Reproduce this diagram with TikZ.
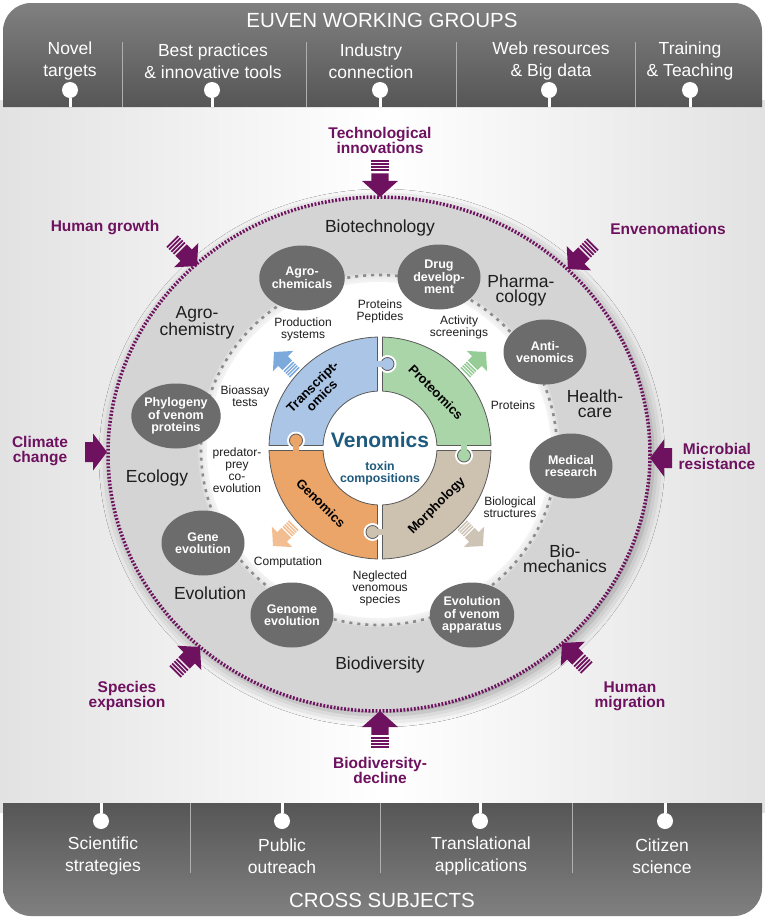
\documentclass[tikz,border=0pt]{standalone}
\usepackage{fontspec}
\setmainfont{Liberation Sans}
\usepackage{tikz}
\usetikzlibrary{shapes,shadows.blur}

\definecolor{venpurple}{RGB}{110,18,96}
\definecolor{venteal}{RGB}{30,90,125}
\definecolor{bggray}{RGB}{226,226,226}
\definecolor{barlight}{RGB}{128,128,128}
\definecolor{bardark}{RGB}{86,86,86}
\definecolor{sepgray}{RGB}{175,175,175}
\definecolor{discgray}{RGB}{212,212,212}
\definecolor{ovalgray}{RGB}{108,108,108}
\definecolor{dotgray}{RGB}{140,140,140}
\definecolor{textgray}{RGB}{30,30,30}
\definecolor{pieceline}{RGB}{90,90,90}
\definecolor{transblue}{RGB}{170,197,230}
\definecolor{protgreen}{RGB}{170,213,168}
\definecolor{morphbrown}{RGB}{205,194,176}
\definecolor{genorange}{RGB}{235,165,105}
\definecolor{arrblue}{RGB}{125,170,220}
\definecolor{arrgreen}{RGB}{150,205,150}
\definecolor{arrorange}{RGB}{242,190,145}
\definecolor{arrbrown}{RGB}{205,196,182}

\tikzstyle{node_oval} = [ellipse, fill=ovalgray, text=white, inner sep=0pt, minimum width=83pt, minimum height=65pt, align=center, font=\fontsize{12.5}{12.5}\selectfont\bfseries]
\tikzstyle{node_sector} = [align=center, text=textgray, font=\fontsize{17.5}{15}\selectfont]
\tikzstyle{node_note} = [align=center, text=textgray, font=\fontsize{12}{12}\selectfont]
\tikzstyle{node_force} = [align=center, text=venpurple, font=\fontsize{15.5}{15}\selectfont\bfseries]
\tikzstyle{node_piece} = [align=center, text=black, font=\fontsize{13}{13}\selectfont\bfseries]
\tikzstyle{node_bar} = [align=center, text=white, font=\fontsize{17.5}{22}\selectfont]
\tikzstyle{node_bartitle} = [text=white, font=\fontsize{20.5}{22}\selectfont]
\tikzstyle{pin_head} = [circle, fill=white, inner sep=0pt, minimum size=16pt]
\tikzstyle{pin_stem} = [white, line width=3pt]
\tikzstyle{sep_line} = [sepgray, line width=0.8pt]

% block arrow with striped tail: colour, tip, angle, scale
\newcommand{\pusharrow}[4]{%
  \begin{scope}[shift={(#2)}, rotate=#3, scale=#4]
    \fill[#1] (0,0) -- (-17,-19) -- (-17,-9) -- (-25,-9) -- (-25,9) -- (-17,9) -- (-17,19) -- cycle;
    \foreach \s in {0,...,3}
      \fill[#1] (-27-3.4*\s,-9) rectangle ++(-2,18);
  \end{scope}}
% short block arrow: colour, tip, angle
\newcommand{\pushhead}[3]{%
  \begin{scope}[shift={(#2)}, rotate=#3]
    \fill[#1] (0,0) -- (-14,-18.5) -- (-14,-10) -- (-22,-10) -- (-22,10) -- (-14,10) -- (-14,18.5) -- cycle;
  \end{scope}}

\begin{document}
\begin{tikzpicture}[x=1pt, y=-1pt]
\useasboundingbox (0,0) rectangle (765,919);
\def\cx{379}
\def\cy{454}
\def\ri{57}
\def\ro{111}

% background
\shade[left color=bggray, right color=bggray, middle color=white] (0,100) rectangle (765,812);

% working groups
\shade[top color=barlight, bottom color=bardark] (3,107) -- (3,31) arc[start angle=180, end angle=270, radius=28] -- (734,3) arc[start angle=270, end angle=360, radius=28] -- (762,107) -- cycle;
\node[node_bartitle] (wgTitle) at (382,20) {EUVEN WORKING GROUPS};
\foreach \x in {122,306,456,635}
  \draw[sep_line] (\x,42) -- (\x,107);
\foreach \x/\t [count=\i] in {70/{Novel\\targets}, 213/{Best practices\\\& innovative tools}, 371/{Industry\\connection}, 551/{Web resources\\\& Big data}, 690/{Training\\\& Teaching}}
  \node[node_bar] (wg\i) at (\x,61) {\t};
\foreach \x [count=\i] in {70,212,380,549,690} {
  \node[pin_head] (wgPin\i) at (\x,90) {};
  \coordinate (wgFoot\i) at (\x,107);
  \draw[pin_stem] (wgPin\i) -- (wgFoot\i);
}

% cross subjects
\shade[top color=bardark, bottom color=barlight] (3,803) -- (762,803) -- (762,888) arc[start angle=0, end angle=90, radius=28] -- (31,916) arc[start angle=90, end angle=180, radius=28] -- cycle;
\node[node_bartitle] (csTitle) at (382,900) {CROSS SUBJECTS};
\foreach \x in {190,380,572}
  \draw[sep_line] (\x,803) -- (\x,873);
\foreach \x/\t [count=\i] in {103/{Scientific\\strategies}, 282/{Public\\outreach}, 481/{Translational\\applications}, 662/{Citizen\\science}}
  \node[node_bar] (cs\i) at (\x,856) {\t};
\foreach \x [count=\i] in {101,282,480,665} {
  \node[pin_head] (csPin\i) at (\x,821) {};
  \coordinate (csFoot\i) at (\x,803);
  \draw[pin_stem] (csPin\i) -- (csFoot\i);
}

% disc
\fill[discgray, blur shadow={shadow xshift=3pt, shadow yshift=-4pt, shadow blur radius=12pt, shadow opacity=40}] (\cx,\cy) ellipse [x radius=271, y radius=257];
\fill[white] (379,450) ellipse [x radius=172, y radius=168];
\foreach \g in {1,...,6}
  \fill[white, opacity=0.22] (379,450) ellipse [x radius=172+1.5*\g, y radius=168+1.5*\g];
\draw[dotgray, line width=2.6pt, dash pattern=on 3pt off 5pt] (379,450) ellipse [x radius=178, y radius=175];

% puzzle
\foreach \col [count=\k from 0] in {transblue,protgreen,morphbrown,genorange}
  \filldraw[fill=\col, draw=pieceline, line width=0.8pt, shift={(380,448)}, rotate=-90*\k]
    (181.3:\ro) arc[start angle=181.3, end angle=268.7, radius=\ro]
    -- (267.5:\ri) arc[start angle=267.5, end angle=182.5, radius=\ri] -- cycle;
\foreach \col [count=\k from 0] in {transblue,protgreen,morphbrown,genorange} {
  \begin{scope}[shift={(380,448)}, rotate=-90*\k]
    \fill[white] (7.5,-84) circle (9);
    \filldraw[fill=\col, draw=pieceline, line width=0.8pt] (7.5,-84) circle (6.5);
    \fill[\col] (-3,-86.6) rectangle (3,-81.4);
  \end{scope}
}
\node[node_piece, rotate=45] (lblTrans) at (317,391) {Transcript-\\omics};
\node[node_piece, rotate=-45] (lblProt) at (436,392) {Proteomics};
\node[node_piece, rotate=-45] (lblGen) at (321,503) {Genomics};
\node[node_piece, rotate=45] (lblMorph) at (437,506) {Morphology};
\node[text=venteal, font=\fontsize{21}{21}\selectfont\bfseries] (venomics) at (380,440) {Venomics};
\node[text=venteal, align=center, font=\fontsize{12.3}{12}\selectfont\bfseries] (toxins) at (380,473) {toxin\\compositions};

% outputs of the puzzle
\coordinate (tipBlue) at (274,352);
\coordinate (tipGreen) at (486,352);
\coordinate (tipOrange) at (273,546);
\coordinate (tipBrown) at (483,546);
\pusharrow{arrblue}{tipBlue}{135}{0.75}
\pusharrow{arrgreen}{tipGreen}{45}{0.75}
\pusharrow{arrorange}{tipOrange}{-135}{0.75}
\pusharrow{arrbrown}{tipBrown}{-45}{0.75}

% applications
\node[node_oval] (ovAgro) at (302,278) {Agro-\\chemicals};
\node[node_oval] (ovDrug) at (439,277) {Drug\\develop-\\ment};
\node[node_oval] (ovAnti) at (545,352) {Anti-\\venomics};
\node[node_oval] (ovMed) at (571,466) {Medical\\research};
\node[node_oval] (ovApp) at (472,615) {Evolution\\of venom\\apparatus};
\node[node_oval] (ovGenome) at (292,615) {Genome\\evolution};
\node[node_oval] (ovGene) at (203,543) {Gene\\evolution};
\node[node_oval] (ovPhylo) at (176,416) {Phylogeny\\of venom\\proteins};

% fields
\node[node_sector] (secBiotech) at (380,228) {Biotechnology};
\node[node_sector] (secPharma) at (521,290) {Pharma-\\cology};
\node[node_sector] (secHealth) at (595,404) {Health-\\care};
\node[node_sector] (secBiomech) at (565,559) {Bio-\\mechanics};
\node[node_sector] (secBiodiv) at (380,665) {Biodiversity};
\node[node_sector] (secEvol) at (210,593) {Evolution};
\node[node_sector] (secEcol) at (157,478) {Ecology};
\node[node_sector] (secAgro) at (197,323) {Agro-\\chemistry};

% links
\node[node_note] (noteProt) at (380,311) {Proteins\\Peptides};
\node[node_note] (noteProd) at (303,329) {Production\\systems};
\node[node_note] (noteAct) at (459,327) {Activity\\screenings};
\node[node_note] (noteBio) at (245,396) {Bioassay\\tests};
\node[node_note] (noteProteins) at (513,405) {Proteins};
\node[node_note] (notePred) at (237,470) {predator-\\prey\\co-\\evolution};
\node[node_note] (noteStruct) at (510,507) {Biological\\structures};
\node[node_note] (noteComp) at (288,562) {Computation};
\node[node_note] (noteNeg) at (380,588) {Neglected\\venomous\\species};

% outer border
\draw[venpurple, line width=3.5pt, dash pattern=on 1.8pt off 1.7pt] (\cx,\cy) ellipse [x radius=271, y radius=257];

% driving forces
\coordinate (tipTech) at (380,197);
\coordinate (tipGrowth) at (197,266);
\coordinate (tipEnv) at (568,269);
\coordinate (tipClimate) at (107,452);
\coordinate (tipMicro) at (650,458);
\coordinate (tipSpecies) at (200,647);
\coordinate (tipBiodiv) at (380,711);
\coordinate (tipMigr) at (562,643);
\pusharrow{venpurple}{tipTech}{-90}{0.95}
\pusharrow{venpurple}{tipGrowth}{-45}{0.9}
\pusharrow{venpurple}{tipEnv}{-135}{0.9}
\pushhead{venpurple}{tipClimate}{0}
\pushhead{venpurple}{tipMicro}{180}
\pusharrow{venpurple}{tipSpecies}{45}{0.9}
\pusharrow{venpurple}{tipBiodiv}{90}{0.95}
\pusharrow{venpurple}{tipMigr}{135}{0.9}

\node[node_force] (fcTech) at (380,140) {Technological\\innovations};
\node[node_force] (fcGrowth) at (105,228) {Human growth};
\node[node_force] (fcEnv) at (668,229) {Envenomations};
\node[node_force] (fcClimate) at (40,451) {Climate\\change};
\node[node_force] (fcMicro) at (717,456) {Microbial\\resistance};
\node[node_force] (fcSpecies) at (127,696) {Species\\expansion};
\node[node_force] (fcBiodiv) at (380,770) {Biodiversity-\\decline};
\node[node_force] (fcMigr) at (630,696) {Human\\migration};
\end{tikzpicture}
\end{document}
